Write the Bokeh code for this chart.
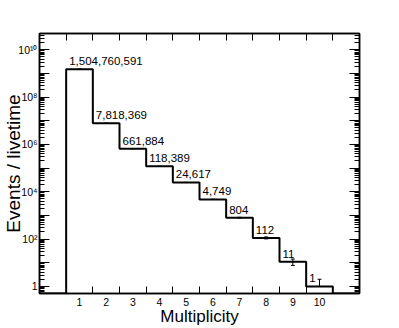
import math
from bokeh.plotting import figure
from bokeh.models import (FixedTicker, LinearAxis, LogAxis, CustomJSTickFormatter,
                          ColumnDataSource, Whisker, TeeHead, Range1d)
from bokeh.core.properties import value
from bokeh.embed import file_html
from bokeh.resources import INLINE

# ---- data ----
multiplicity = [1, 2, 3, 4, 5, 6, 7, 8, 9, 10]
rates = [1504760591, 7818369, 661884, 118389, 24617, 4749, 804, 112, 11, 1]
count_labels = ["1,504,760,591", "7,818,369", "661,884", "118,389", "24,617",
                "4,749", "804", "112", "11", "1"]
y_tick_exponents = [0, 1, 2, 3, 4, 5, 6, 7, 8, 9, 10]
y_tick_labels = {"0": "1", "2": "10²", "4": "10⁴", "6": "10⁶", "8": "10⁸", "10": "10¹⁰"}
x_tick_labels = ["1", "2", "3", "4", "5", "6", "7", "8", "9", "10"]
x_label = "Multiplicity"
y_label = "Events / livetime"

Y_MIN, Y_MAX = 0.5, 4.86e10
X_MIN, X_MAX = -0.5, 11.5
FONT = "Liberation Sans"

p = figure(width=399, height=328, output_backend="svg", toolbar_location=None,
           y_axis_type="log", x_range=Range1d(X_MIN, X_MAX), y_range=Range1d(Y_MIN, Y_MAX),
           min_border_left=39, min_border_right=40, min_border_top=33, min_border_bottom=34,
           x_axis_location=None, y_axis_location=None)
p.grid.visible = False
p.outline_line_color = "black"
p.outline_line_width = 1.5
p.background_fill_color = "white"
p.border_fill_color = "white"

# ---- step histogram ----
full_x = [multiplicity[0] - 1] + multiplicity + [multiplicity[-1] + 1]
full_y = [0] + rates + [0]
xs, ys = [], []
for xc, v in zip(full_x, full_y):
    vv = max(v, Y_MIN)
    xs += [xc - 0.5, xc + 0.5]
    ys += [vv, vv]
p.line(xs, ys, line_color="black", line_width=2)

# ---- error bars (sqrt N) ----
err = [math.sqrt(v) for v in rates]
lower = [v - e if v - e > 0 else v for v, e in zip(rates, err)]
upper = [v + e for v, e in zip(rates, err)]
esrc = ColumnDataSource(dict(x=multiplicity, lower=lower, upper=upper))
p.add_layout(Whisker(source=esrc, base="x", lower="lower", upper="upper", dimension="height",
                     line_color="black", line_width=1,
                     lower_head=TeeHead(size=4, line_color="black", line_width=1),
                     upper_head=TeeHead(size=4, line_color="black", line_width=1)))

# ---- value labels ----
tsrc = ColumnDataSource(dict(x=[m - 0.5 for m in multiplicity], y=rates, t=count_labels))
p.text(x="x", y="y", text="t", source=tsrc, x_offset=3, y_offset=-8,
       text_font=value(FONT), text_font_size="11.5px", text_align="left",
       text_baseline="alphabetic", text_color="black")

# ---- axes ----
x_minor = [m - 0.5 for m in multiplicity] + [multiplicity[-1] + 0.5]
y_major = [10.0 ** e for e in y_tick_exponents]
y_minor = [k * 10.0 ** e for e in range(-1, 11) for k in range(2, 10)]

blank = CustomJSTickFormatter(code='return "";')

def style_axis(ax):
    ax.axis_line_color = "black"
    ax.axis_line_width = 1.5
    ax.major_tick_line_color = "black"
    ax.minor_tick_line_color = "black"
    ax.major_tick_line_width = 1
    ax.minor_tick_line_width = 1
    ax.major_label_text_font = FONT
    ax.major_label_text_color = "black"
    ax.axis_label_text_font = FONT
    ax.axis_label_text_font_style = "normal"
    ax.axis_label_text_color = "black"

xb = LinearAxis(ticker=FixedTicker(ticks=multiplicity, minor_ticks=x_minor))
style_axis(xb)
xb.major_tick_in = 0
xb.major_tick_out = 0
xb.minor_tick_in = 7
xb.minor_tick_out = 0
xb.major_label_overrides = {m: t for m, t in zip(multiplicity, x_tick_labels)}
xb.major_label_text_font_size = "10.5px"
xb.major_label_standoff = 4
xb.axis_label = x_label
xb.axis_label_text_font_size = "17px"
xb.axis_label_standoff = -2
p.add_layout(xb, "below")

xt = LinearAxis(ticker=FixedTicker(ticks=x_minor, minor_ticks=[]), formatter=blank)
style_axis(xt)
xt.major_tick_in = 7
xt.major_tick_out = 0
xt.major_label_standoff = 0
p.add_layout(xt, "above")

fmt = CustomJSTickFormatter(args=dict(labels=y_tick_labels), code="""
const e = Math.round(Math.log10(tick));
const s = labels[String(e)];
return s === undefined ? "" : s;
""")

yl = LogAxis(ticker=FixedTicker(ticks=y_major, minor_ticks=y_minor), formatter=fmt)
style_axis(yl)
yl.major_tick_in = 10
yl.major_tick_out = 0
yl.minor_tick_in = 5
yl.minor_tick_out = 0
yl.major_label_text_font_size = "10.5px"
yl.major_label_standoff = 2
yl.axis_label = y_label
yl.axis_label_text_font_size = "19px"
yl.axis_label_standoff = -9
p.add_layout(yl, "left")

yr = LogAxis(ticker=FixedTicker(ticks=y_major, minor_ticks=y_minor), formatter=blank)
style_axis(yr)
yr.major_tick_in = 10
yr.major_tick_out = 0
yr.minor_tick_in = 5
yr.minor_tick_out = 0
yr.major_label_standoff = 0
p.add_layout(yr, "right")

open("out.html", "w").write(file_html(p, INLINE))
